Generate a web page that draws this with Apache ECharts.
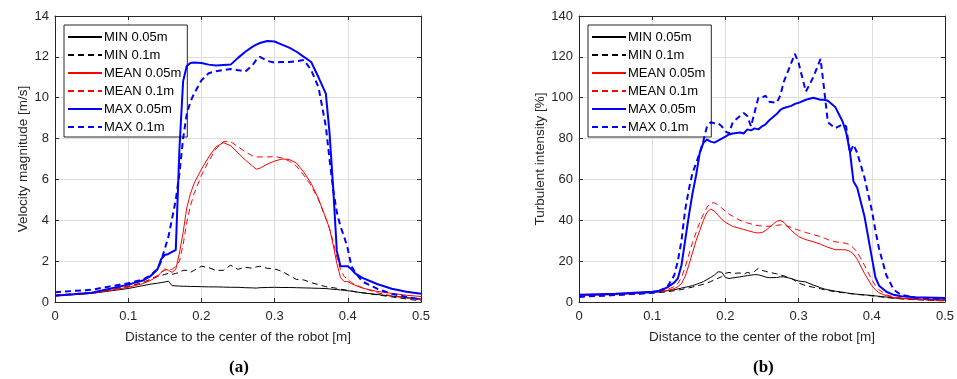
<!DOCTYPE html>
<html>
<head>
<meta charset="utf-8">
<script src="https://cdn.jsdelivr.net/npm/echarts@6/dist/echarts.min.js"></script>
<style>
  html, body { margin: 0; padding: 0; background: #fff; }
  #chart { width: 957px; height: 379px; }
</style>
</head>
<body>
<div id="chart"></div>
<script>
// ---- (a) velocity magnitude ----
const velX = [0, 0.05, 0.1, 0.12, 0.13, 0.14, 0.145, 0.15, 0.155, 0.16, 0.165, 0.17, 0.175, 0.18, 0.185, 0.19,
  0.2, 0.21, 0.22, 0.23, 0.24, 0.25, 0.26, 0.27, 0.275, 0.28, 0.29, 0.3, 0.31, 0.32, 0.33, 0.34, 0.35, 0.36,
  0.37, 0.375, 0.38, 0.385, 0.39, 0.395, 0.4, 0.405, 0.41, 0.42, 0.44, 0.46, 0.48, 0.5];
const velMin005 = [0.3, 0.42, 0.66, 0.8, 0.87, 0.92, 0.95, 0.98, 1.02, 0.8, 0.79, 0.78, 0.77, 0.77, 0.76, 0.76,
  0.75, 0.74, 0.74, 0.73, 0.72, 0.72, 0.7, 0.69, 0.68, 0.7, 0.71, 0.72, 0.71, 0.71, 0.7, 0.69, 0.68, 0.67,
  0.66, 0.64, 0.62, 0.61, 0.59, 0.57, 0.55, 0.53, 0.5, 0.45, 0.37, 0.29, 0.22, 0.15];
const velMin01 = [0.33, 0.47, 0.75, 0.95, 1.1, 1.25, 1.3, 1.35, 1.4, 1.35, 1.4, 1.45, 1.55, 1.55, 1.45, 1.55,
  1.75, 1.68, 1.55, 1.55, 1.8, 1.6, 1.7, 1.65, 1.72, 1.75, 1.65, 1.62, 1.5, 1.3, 1.1, 1.08, 0.95, 0.85,
  0.75, 0.72, 0.7, 0.67, 0.63, 0.6, 0.57, 0.54, 0.5, 0.45, 0.35, 0.25, 0.15, 0.05];
const velMean005 = [0.3, 0.42, 0.72, 0.9, 1.05, 1.25, 1.45, 1.62, 1.55, 1.45, 1.6, 2.4, 3.4, 4.6, 5.3, 5.8,
  6.5, 7.1, 7.6, 7.8, 7.65, 7.3, 6.95, 6.65, 6.5, 6.55, 6.75, 6.9, 7.0, 6.98, 6.8, 6.35, 5.8, 5.05,
  4.1, 3.6, 2.8, 1.9, 1.2, 1.0, 1.0, 0.9, 0.82, 0.68, 0.52, 0.42, 0.33, 0.27];
const velMean01 = [0.35, 0.45, 0.78, 0.95, 1.1, 1.3, 1.45, 1.55, 1.6, 1.6, 1.75, 2.0, 2.8, 3.9, 4.7, 5.3,
  6.2, 6.9, 7.5, 7.85, 7.85, 7.6, 7.35, 7.15, 7.1, 7.1, 7.1, 7.12, 7.05, 6.9, 6.65, 6.2, 5.7, 5.0,
  4.1, 3.6, 2.95, 2.2, 1.6, 1.25, 1.1, 0.95, 0.85, 0.7, 0.45, 0.3, 0.2, 0.1];
const velMax005 = [0.3, 0.45, 0.85, 1.05, 1.25, 1.6, 2.1, 2.3, 2.35, 2.45, 2.55, 7.5, 10.8, 11.55, 11.7, 11.72,
  11.7, 11.62, 11.58, 11.6, 11.62, 11.95, 12.25, 12.5, 12.6, 12.68, 12.78, 12.75, 12.6, 12.45, 12.25, 12.0, 11.75, 11.0,
  10.2, 8.3, 5.6, 2.5, 1.75, 1.75, 1.75, 1.6, 1.4, 1.18, 0.88, 0.65, 0.5, 0.4];
const velMax01 = [0.48, 0.6, 0.92, 1.1, 1.3, 1.6, 2.0, 2.6, 3.2, 4.1, 5.0, 6.3, 8.0, 9.2, 9.8, 10.2,
  10.85, 11.2, 11.3, 11.35, 11.4, 11.35, 11.28, 11.6, 11.85, 12.0, 11.8, 11.72, 11.75, 11.75, 11.78, 11.85, 11.35, 10.5,
  8.6, 7.0, 5.5, 4.4, 3.7, 3.2, 2.6, 1.75, 1.45, 1.0, 0.65, 0.4, 0.25, 0.12];

// ---- (b) turbulent intensity ----
const tiX = [0, 0.05, 0.1, 0.11, 0.12, 0.13, 0.135, 0.14, 0.145, 0.15, 0.155, 0.16, 0.165, 0.17, 0.175, 0.18,
  0.185, 0.19, 0.195, 0.2, 0.205, 0.21, 0.22, 0.225, 0.23, 0.235, 0.24, 0.245, 0.25, 0.255, 0.26, 0.27,
  0.275, 0.28, 0.29, 0.295, 0.3, 0.31, 0.32, 0.33, 0.335, 0.34, 0.35, 0.36, 0.365, 0.37, 0.375, 0.38,
  0.39, 0.4, 0.405, 0.41, 0.42, 0.43, 0.44, 0.46, 0.5];
const tiMin005 = [3.5, 3.8, 4.6, 5.0, 5.5, 6.0, 6.4, 6.8, 7.2, 7.6, 8.0, 8.6, 9.3, 10.0, 11.0, 12.0,
  13.2, 14.8, 14.6, 12.0, 11.5, 11.8, 12.3, 12.6, 12.9, 13.2, 13.4, 13.3, 12.8, 12.2, 11.9, 12.0,
  12.3, 12.3, 11.5, 10.8, 10.3, 9.8, 8.3, 7.0, 6.4, 6.0, 5.3, 4.8, 4.5, 4.2, 4.0, 3.8,
  3.5, 3.2, 3.0, 2.8, 2.4, 2.0, 1.7, 1.4, 1.0];
const tiMin01 = [2.6, 3.2, 4.3, 4.6, 5.0, 5.5, 5.8, 6.1, 6.5, 6.9, 7.3, 7.8, 8.2, 8.7, 9.3, 10.0,
  10.8, 11.6, 12.4, 14.0, 14.5, 14.0, 14.2, 13.6, 14.5, 14.0, 15.0, 16.5, 15.5, 15.0, 14.5, 13.8,
  13.2, 12.8, 11.5, 10.5, 9.3, 8.0, 7.2, 6.5, 6.0, 5.7, 5.0, 4.6, 4.4, 4.1, 3.9, 3.7,
  3.4, 3.0, 2.8, 2.6, 2.2, 1.8, 1.5, 1.1, 0.6];
const tiMean005 = [3.0, 3.6, 4.7, 5.0, 5.5, 6.5, 7.5, 9.0, 12.5, 18, 24, 30, 35, 40, 44, 45.5,
  44.5, 42.5, 40.5, 39, 38, 37, 36, 35.5, 35, 34.5, 34, 33.8, 34, 35, 36.5, 39.5,
  40, 39, 35, 33.5, 32, 30.5, 29.5, 28.3, 27.5, 26.8, 25.6, 25.6, 25.5, 24.8, 23.5, 21,
  14, 8, 6, 4.5, 3.0, 2.2, 1.8, 1.4, 0.8];
const tiMean01 = [2.5, 3.3, 4.5, 5.0, 6.0, 7.5, 9, 12, 17, 23, 29, 34, 39, 43, 46.5, 48.5,
  48.5, 47.5, 46, 44.5, 43, 42, 40, 39.3, 38.7, 38.2, 37.7, 37.4, 37.2, 37.1, 37.1, 37.5,
  37.8, 37.6, 36.5, 35.8, 35.2, 34, 33, 32, 31.3, 30.5, 29.5, 29, 28.7, 28, 26.5, 24.5,
  18, 11, 8, 6, 3.5, 2.5, 2.0, 1.2, 0.5];
const tiMax005 = [3.5, 4.0, 5.0, 5.5, 7.0, 9.5, 11.5, 18, 30, 42, 53, 62, 73, 78, 79.5, 78.5,
  78, 79, 80, 81, 82, 82.5, 83, 82.5, 84.5, 84, 85, 84.5, 86, 87, 89, 92,
  94, 95, 96, 97, 97.5, 99, 100, 99, 99, 98.5, 95.5, 88.5, 83, 74, 59, 56,
  42, 22, 12, 8, 5, 3.5, 2.8, 2.3, 2.0];
const tiMax01 = [2.5, 3.5, 4.5, 5.5, 7.0, 13, 20, 30, 45, 55, 63, 68, 73, 79, 86, 88,
  87.5, 87.5, 86, 83.5, 82.5, 88, 91, 92.5, 91, 86, 93, 100, 100, 101, 98, 97.5,
  101, 108, 117, 121.5, 117, 103, 110, 119, 104, 88, 85, 87, 86, 73, 77, 73,
  61, 45, 35, 26, 13, 6, 3.5, 2.0, 1.5];

const legendNames = ["MIN 0.05m", "MIN 0.1m", "MEAN 0.05m", "MEAN 0.1m", "MAX 0.05m", "MAX 0.1m"];
const xTicks = { min: 0, max: 0.5, interval: 0.1 };
const velTicks = { min: 0, max: 14, interval: 2 };
const tiTicks = { min: 0, max: 140, interval: 20 };

const FONT = "'Liberation Sans', Arial, Helvetica, sans-serif";
const AXIS_COLOR = "#262626";
const GRID_COLOR = "#dedede";

const styles = [
  { color: "#000000", width: 1, type: "solid" },
  { color: "#000000", width: 1, type: [6, 4] },
  { color: "#ff0000", width: 1, type: "solid" },
  { color: "#ff0000", width: 1, type: [6, 4] },
  { color: "#0000ff", width: 2, type: "solid" },
  { color: "#0000ff", width: 2, type: [6, 4] },
];

const chart = echarts.init(document.getElementById("chart"), null, { renderer: "canvas" });

function xAxes(gridIndex) {
  const base = {
    gridIndex,
    type: "value",
    ...xTicks,
    axisLine: { show: true, onZero: false, lineStyle: { color: AXIS_COLOR, width: 1 } },
    axisTick: { show: true, inside: true, length: 4, lineStyle: { color: AXIS_COLOR } },
  };
  return [
    {
      ...base,
      position: "bottom",
      name: "Distance to the center of the robot [m]",
      nameLocation: "middle",
      nameGap: 28,
      nameTextStyle: { color: AXIS_COLOR, fontSize: 13.5, fontFamily: FONT },
      axisLabel: {
        color: AXIS_COLOR, fontSize: 13, fontFamily: FONT, margin: 8,
        formatter: (v) => String(+v.toFixed(1)),
      },
      splitLine: { show: true, lineStyle: { color: GRID_COLOR, width: 1 } },
    },
    { ...base, position: "top", axisLabel: { show: false }, splitLine: { show: false } },
  ];
}

function yAxes(gridIndex, ticks, name) {
  const base = {
    gridIndex,
    type: "value",
    ...ticks,
    axisLine: { show: true, onZero: false, lineStyle: { color: AXIS_COLOR, width: 1 } },
    axisTick: { show: true, inside: true, length: 4, lineStyle: { color: AXIS_COLOR } },
  };
  return [
    {
      ...base,
      position: "left",
      name,
      nameLocation: "middle",
      nameGap: ticks.max > 100 ? 31 : 23,
      nameTextStyle: { color: AXIS_COLOR, fontSize: 13.5, fontFamily: FONT },
      axisLabel: { color: AXIS_COLOR, fontSize: 13, fontFamily: FONT, margin: 6 },
      splitLine: { show: true, lineStyle: { color: GRID_COLOR, width: 1 } },
    },
    { ...base, position: "right", axisLabel: { show: false }, splitLine: { show: false } },
  ];
}

function makeSeries(xs, lists, axisIndex) {
  return lists.map((ys, i) => ({
    name: legendNames[i],
    type: "line",
    xAxisIndex: axisIndex,
    yAxisIndex: axisIndex,
    data: xs.map((x, k) => [x, ys[k]]),
    symbol: "none",
    smooth: false,
    lineStyle: { color: styles[i].color, width: styles[i].width, type: styles[i].type },
    itemStyle: { color: styles[i].color },
    emphasis: { disabled: true },
    z: 2 + i,
  }));
}

function legendAt(left) {
  return {
    data: legendNames,
    orient: "vertical",
    left,
    top: 25,
    padding: [5, 6, 3, 3],
    itemWidth: 34,
    itemHeight: 14,
    itemGap: 4,
    backgroundColor: "#ffffff",
    borderColor: AXIS_COLOR,
    borderWidth: 1,
    borderRadius: 0,
    selectedMode: false,
    // hide the marker circle, keep only the line sample
    itemStyle: { color: "rgba(0,0,0,0)", borderWidth: 0, opacity: 0 },
    textStyle: { color: "#000", fontSize: 13, fontFamily: FONT, lineHeight: 14, padding: [0, 0, 0, -3] },
  };
}

const option = {
  animation: false,
  backgroundColor: "#ffffff",
  grid: [
    { left: 55, top: 16, width: 366, height: 286 },
    { left: 579, top: 16, width: 366, height: 286 },
  ],
  xAxis: [...xAxes(0), ...xAxes(1)],
  yAxis: [...yAxes(0, velTicks, "Velocity magnitude [m/s]"), ...yAxes(1, tiTicks, "Turbulent intensity [%]")],
  legend: [legendAt(64), legendAt(588)],
  series: [
    ...makeSeries(velX, [velMin005, velMin01, velMean005, velMean01, velMax005, velMax01], 0),
    ...makeSeries(tiX, [tiMin005, tiMin01, tiMean005, tiMean01, tiMax005, tiMax01], 2),
  ],
  graphic: [
    {
      type: "text", left: 229, top: 359,
      style: { text: "(a)", font: "bold 17px 'Liberation Serif', 'DejaVu Serif', serif", fill: "#000", textAlign: "center" },
    },
    {
      type: "text", left: 753, top: 359,
      style: { text: "(b)", font: "bold 17px 'Liberation Serif', 'DejaVu Serif', serif", fill: "#000", textAlign: "center" },
    },
  ],
};

chart.setOption(option);
</script>
</body>
</html>
